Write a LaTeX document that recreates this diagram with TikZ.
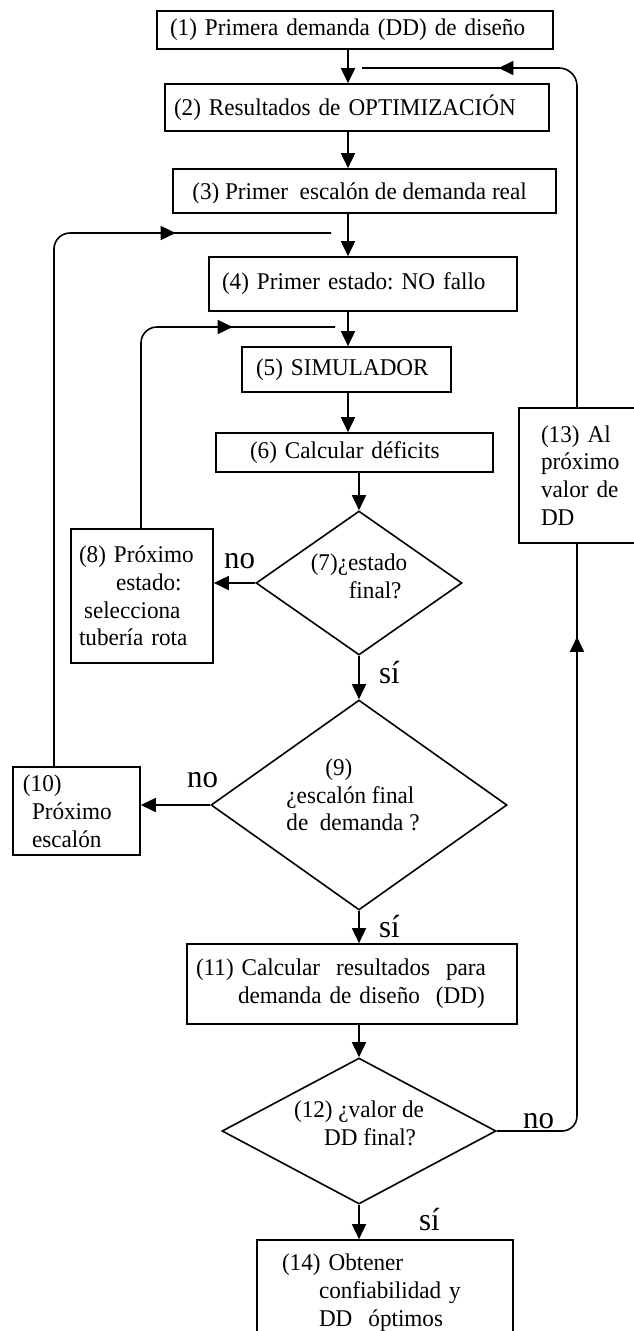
\documentclass[tikz,border=0pt]{standalone}
\usepackage{fontspec}
\setmainfont{Liberation Serif}[FakeStretch=0.965]
\usetikzlibrary{arrows.meta}
\usetikzlibrary{shapes.geometric}
\usetikzlibrary{decorations.markings}
\frenchspacing

\begin{document}
\begin{tikzpicture}[x=1pt, y=-1pt,
  txt/.style={font=\fontsize{24pt}{27.8pt}\selectfont},
  tag/.style={font=\fontsize{32pt}{34pt}\selectfont, inner sep=0pt, anchor=base west},
  box/.style={txt, draw, line width=1.6pt, rectangle, inner sep=0pt, align=left},
  decision/.style={draw, line width=1.6pt, diamond, inner sep=0pt},
  line/.style={line width=1.6pt},
  >={Triangle[length=15pt, width=14pt]},
  midarrow/.style={postaction={decorate}, decoration={markings, mark=at position #1 with {\arrow{>}}}}]
\useasboundingbox (0,0) rectangle (633,1331);
\coordinate (colA) at (348,0);
\coordinate (colB) at (359,0);
\coordinate (rx) at (577,0);
\coordinate (lx1) at (54,0);
\coordinate (lx2) at (141,0);
\coordinate (j2) at (362,68);
\coordinate (j4) at (331,233);
\coordinate (j5) at (335,327);

\node[box, minimum width=396pt, minimum height=38pt, text width=370pt] (b1) at (355,30) {(1) Primera demanda (DD) de diseño};
\node[box, minimum width=384pt, minimum height=47pt, text width=366pt] (b2) at (357,107.5) {(2) Resultados de OPTIMIZACIÓN};
\node[draw, line width=1.6pt, inner sep=0pt, minimum width=383pt, minimum height=44pt,
  path picture={\clip (path picture bounding box.north west) rectangle ([yshift=11pt]path picture bounding box.south east);
    \node[txt, xshift=-5pt, yshift=-3pt] (t3) at (path picture bounding box.center) {(3) Primer\ \ escalón de demanda real};}] (b3) at (364.5,191) {};
\node[box, minimum width=308pt, minimum height=54pt, text width=282pt] (b4) at (363,284) {(4) Primer estado: NO fallo};
\node[box, minimum width=209pt, minimum height=45pt, text width=181pt] (b5) at (346.5,369.5) {(5) SIMULADOR};
\node[box, minimum width=277pt, minimum height=39pt, text width=209pt] (b6) at (354.5,452.5) {(6) Calcular déficits};
\node[decision, minimum width=206pt, minimum height=144pt,
  label={[txt, align=left, yshift=7pt]center:{(7)¿estado\\\hspace*{38pt}final?}}] (d7) at (359,583) {};
\node[box, minimum width=142pt, minimum height=134pt, text width=126pt] (b8) at (142,596) {(8) Próximo\\\hspace*{37pt}estado:\\\hspace*{5pt}selecciona\\tubería rota};
\node[box, minimum width=141pt, minimum height=135pt, text width=97pt] (b13) at (589.5,475.5) {(13) Al\\próximo\\valor de\\DD};
\node[decision, minimum width=296pt, minimum height=210pt,
  label={[txt, align=left, xshift=-6pt, yshift=10pt]center:{\hspace*{39pt}(9)\\¿escalón final\\de\ \ demanda ?}}] (d9) at (359,805) {};
\node[box, minimum width=127pt, minimum height=88pt, text width=107pt] (b10) at (76.5,811) {(10)\\\hspace*{9pt}Próximo\\\hspace*{9pt}escalón};
\node[box, minimum width=330pt, minimum height=80pt, text width=312pt] (b11) at (352,984) {(11) Calcular\ \ resultados\ \ para\\\hspace*{42pt}demanda de diseño\ \ (DD)};
\node[decision, minimum width=274pt, minimum height=146pt,
  label={[txt, align=left, yshift=8pt]center:{(12) ¿valor de\\\hspace*{30pt}DD final?}}] (d12) at (359,1131) {};
\node[box, minimum width=256pt, minimum height=105pt, text width=206pt] (b14) at (385,1292.5) {(14) Obtener\\\hspace*{37pt}confiabilidad y\\\hspace*{37pt}DD\ \ óptimos};

\node[tag] (no7) at (224,568) {no};
\node[tag] (si7) at (379,683) {sí};
\node[tag] (no9) at (187,787) {no};
\node[tag] (si9) at (379,937) {sí};
\node[tag] (no12) at (523,1128) {no};
\node[tag] (si12) at (419,1230) {sí};

\foreach \a/\b in {b1/b2, b2/b3, b3/b4, b4/b5, b5/b6}
  \draw[line, ->] (\a.south -| colA) -- (\b.north -| colA);
\foreach \a/\b in {b6/d7, d7/d9, d9/b11, b11/d12, d12/b14}
  \draw[line, ->] (\a.south -| colB) -- (\b.north -| colB);
\draw[line, ->] (d7.west) -- (b8.east |- d7.west);
\draw[line, ->] (d9.west) -- (b10.east |- d9.west);

\draw[line, rounded corners=15pt, midarrow=568pt] (d12.east) -| (b13.south -| rx);
\draw[line, rounded corners=18pt, midarrow=410pt] (b13.north -| rx) |- (j2);
\draw[line, rounded corners=16pt, midarrow=648pt] (b10.north -| lx1) |- (j4);
\draw[line, rounded corners=16pt, midarrow=286pt] (b8.north -| lx2) |- (j5);
\end{tikzpicture}
\end{document}
